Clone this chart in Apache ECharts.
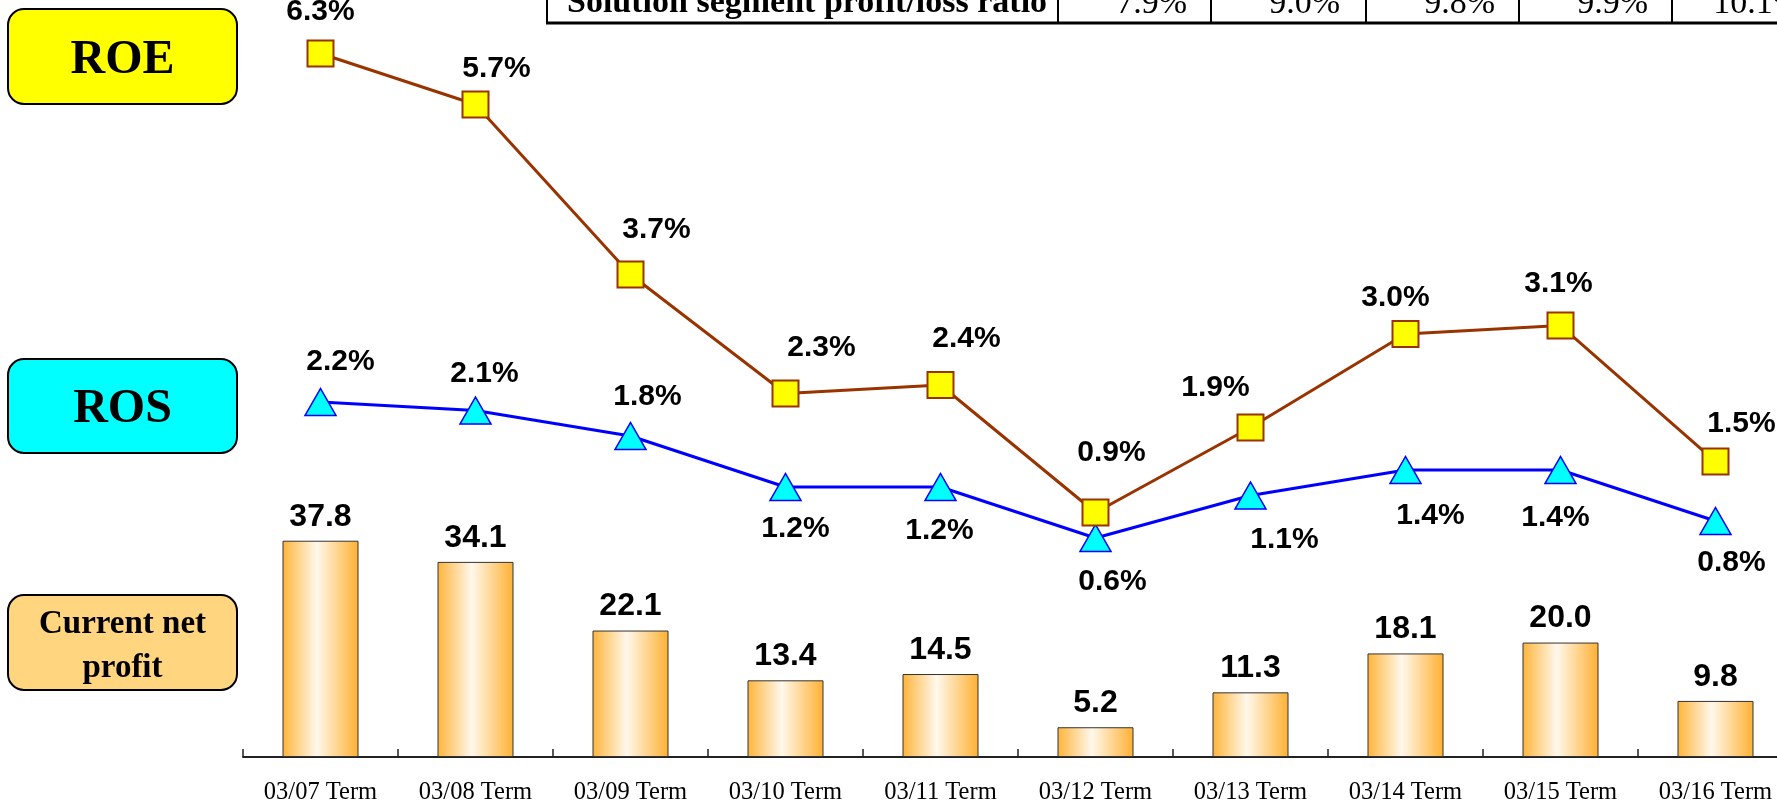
<!DOCTYPE html>
<html>
<head>
<meta charset="UTF-8">
<title>ROE / ROS / Current net profit</title>
<script src="https://cdn.jsdelivr.net/npm/echarts@6/dist/echarts.min.js"></script>
<style>
  html, body { margin: 0; padding: 0; background: #fff; }
  #chart { width: 1777px; height: 805px; }
</style>
</head>
<body>
<div id="chart"></div>
<script>
// ---- data ----
var terms = ['03/07 Term', '03/08 Term', '03/09 Term', '03/10 Term', '03/11 Term',
             '03/12 Term', '03/13 Term', '03/14 Term', '03/15 Term', '03/16 Term'];
var netProfit = [37.8, 34.1, 22.1, 13.4, 14.5, 5.2, 11.3, 18.1, 20.0, 9.8];
var roe = [6.3, 5.7, 3.7, 2.3, 2.4, 0.9, 1.9, 3.0, 3.1, 1.5];
var ros = [2.2, 2.1, 1.8, 1.2, 1.2, 0.6, 1.1, 1.4, 1.4, 0.8];
// table row cut off at the top of the slide
var tableLabel = 'Solution segment profit/loss ratio';
var tableRatio = ['7.9%', '9.0%', '9.8%', '9.9%', '10.1%'];

// label offsets (hand placed in the original)
var roeLabelOff = [[0, -42], [21, -36], [26, -45], [36, -46], [26, -46],
                   [16, -60], [-35, -40], [-10, -36], [-2, -42], [26, -38]];
var rosLabelOff = [[20, -40], [9, -37], [17, -39], [10, 42], [-1, 44],
                   [17, 44], [34, 44], [25, 46], [-5, 48], [16, 42]];

var numFont = '"Liberation Sans", Arial, sans-serif';
var serif = '"Liberation Serif", "Times New Roman", serif';

function lineData(vals, offs) {
    return vals.map(function (v, i) {
        return { value: v, label: { offset: offs[i] } };
    });
}

var chart = echarts.init(document.getElementById('chart'));

var barGrad = new echarts.graphic.LinearGradient(0, 0, 1, 0, [
    { offset: 0, color: '#ffb43a' },
    { offset: 0.45, color: '#fff8ec' },
    { offset: 1, color: '#ffb032' }
]);

// table cells: left edge, column lines, bottom rule
var colX = [547, 1058, 1211, 1366, 1519, 1672];
var graphics = [];
colX.forEach(function (x) {
    graphics.push({ type: 'line', shape: { x1: x, y1: 0, x2: x, y2: 23 },
        style: { stroke: '#000', lineWidth: 2 } });
});
graphics.push({ type: 'line', shape: { x1: 546, y1: 23, x2: 1777, y2: 23 },
    style: { stroke: '#000', lineWidth: 3 } });
graphics.push({ type: 'text', x: 567, y: 3,
    style: { text: tableLabel, font: 'bold 34px ' + serif, fill: '#000',
        align: 'left', verticalAlign: 'middle' } });
tableRatio.forEach(function (t, i) {
    graphics.push({ type: 'text', x: colX[i + 1] + 153 - 24, y: 4,
        style: { text: t, font: '34px ' + serif, fill: '#000',
            align: 'right', verticalAlign: 'middle' } });
});

// left label boxes
function box(y, h, fill, lines, size, lineGap) {
    graphics.push({ type: 'rect', shape: { x: 8, y: y, width: 229, height: h, r: 16 },
        style: { fill: fill, stroke: '#000', lineWidth: 2 } });
    var mid = y + h / 2 + 4;
    var start = mid - (lines.length - 1) * lineGap / 2;
    lines.forEach(function (s, i) {
        graphics.push({ type: 'text', x: 122.5, y: start + i * lineGap,
            style: { text: s, font: 'bold ' + size + 'px ' + serif, fill: '#000',
                align: 'center', verticalAlign: 'middle' } });
    });
}
box(9, 95, '#ffff00', ['ROE'], 48, 0);
box(359, 94, '#00ffff', ['ROS'], 48, 0);
box(595, 95, '#ffd580', ['Current net', 'profit'], 33, 44);

var option = {
    backgroundColor: '#fff',
    animation: false,
    grid: { left: 243, width: 1550, top: 28, bottom: 48, containLabel: false, outerBoundsMode: 'none' },
    xAxis: {
        type: 'category',
        data: terms,
        boundaryGap: true,
        axisLine: { lineStyle: { color: '#222', width: 2 } },
        axisTick: { show: true, inside: true, length: 8, lineStyle: { color: '#222', width: 1.5 } },
        axisLabel: { color: '#000', fontFamily: serif, fontSize: 24.5, margin: 23 },
        splitLine: { show: false }
    },
    yAxis: [
        { type: 'value', min: 0, max: 127.4, show: false, splitLine: { show: false } },
        { type: 'value', min: -1.976, max: 6.6, show: false, splitLine: { show: false } }
    ],
    series: [
        {
            name: 'Current net profit',
            type: 'bar',
            data: netProfit,
            yAxisIndex: 0,
            barWidth: 76,
            itemStyle: { color: barGrad, borderColor: '#333', borderWidth: 1 },
            label: {
                show: true, position: 'top', distance: 8,
                color: '#000', fontFamily: numFont, fontWeight: 'bold', fontSize: 32,
                formatter: function (p) { return p.value.toFixed(1); }
            },
            z: 2
        },
        {
            name: 'ROS',
            type: 'line',
            data: lineData(ros, rosLabelOff),
            yAxisIndex: 1,
            symbol: 'triangle',
            symbolSize: [31, 27],
            lineStyle: { color: '#0000ff', width: 3 },
            itemStyle: { color: '#00ffff', borderColor: '#0000ff', borderWidth: 1.5 },
            label: {
                show: true, position: 'inside',
                color: '#000', fontFamily: numFont, fontWeight: 'bold', fontSize: 30,
                formatter: function (p) { return p.value.toFixed(1) + '%'; }
            },
            z: 3
        },
        {
            name: 'ROE',
            type: 'line',
            data: lineData(roe, roeLabelOff),
            yAxisIndex: 1,
            symbol: 'rect',
            symbolSize: 26,
            lineStyle: { color: '#993300', width: 3 },
            itemStyle: { color: '#ffff00', borderColor: '#993300', borderWidth: 2 },
            label: {
                show: true, position: 'inside',
                color: '#000', fontFamily: numFont, fontWeight: 'bold', fontSize: 30,
                formatter: function (p) { return p.value.toFixed(1) + '%'; }
            },
            z: 4
        }
    ],
    graphic: graphics
};
chart.setOption(option);
</script>
</body>
</html>
